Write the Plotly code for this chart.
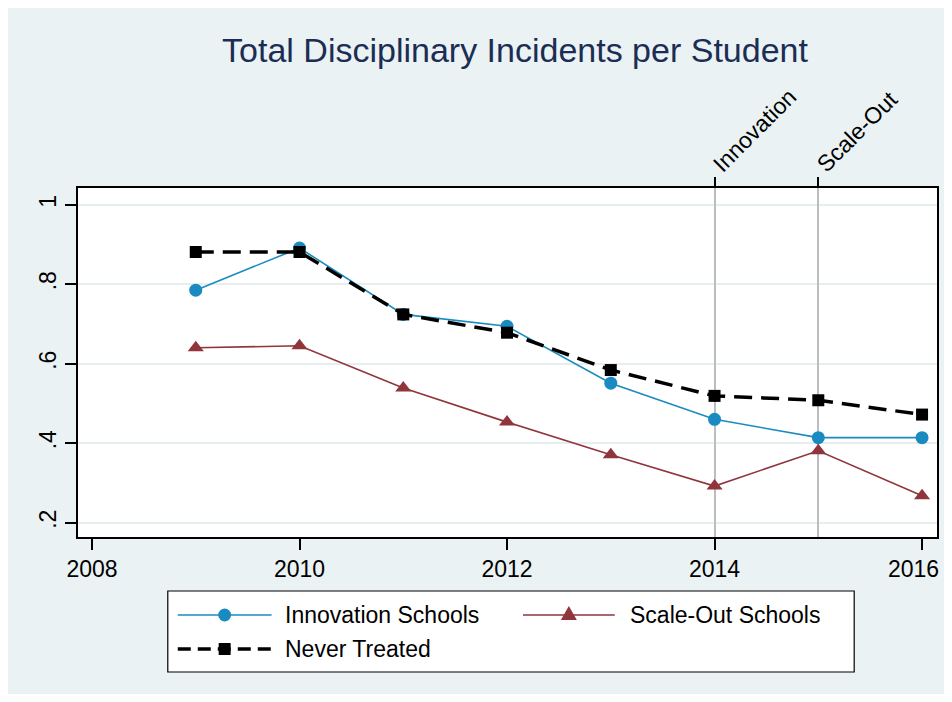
import plotly.graph_objects as go

# ---------------- data ----------------
years = [2009, 2010, 2011, 2012, 2013, 2014, 2015, 2016]
innovation = [0.785, 0.891, 0.724, 0.694, 0.551, 0.460, 0.414, 0.414]
scale_out = [0.640, 0.645, 0.539, 0.453, 0.371, 0.292, 0.381, 0.268]
never_treated = [0.881, 0.881, 0.724, 0.678, 0.584, 0.519, 0.508, 0.472]

series_names = ["Innovation Schools", "Scale-Out Schools", "Never Treated"]
x_ticks = [2008, 2010, 2012, 2014, 2016]
y_ticks = [0.2, 0.4, 0.6, 0.8, 1.0]
y_tick_labels = [".2", ".4", ".6", ".8", "1"]
event_years = [2014, 2015]
event_labels = ["Innovation", "Scale-Out"]
title_text = "Total Disciplinary Incidents per Student"

# ---------------- style ----------------
OFF = 8                              # default page body margin
W, H = 952 - 2 * OFF, 702 - 2 * OFF  # figure size so the page is exactly 952x702
L, T = 78 - OFF, 188 - OFF
R = W - (939 - OFF)
B = H - (537 - OFF)
PW, PH = W - L - R, H - T - B
BG = "#EAF2F3"
BLUE = "#1A8BC0"
RED = "#90353B"
FONT = "Liberation Sans, Arial, sans-serif"


def px(x):
    """page pixel x -> paper coordinate"""
    return (x - OFF - L) / PW


def py(y):
    """page pixel y -> paper coordinate"""
    return (H - B - (y - OFF)) / PH


fig = go.Figure()

fig.add_trace(go.Scatter(x=years, y=innovation, name=series_names[0], mode="lines+markers",
                         line=dict(color=BLUE, width=1.6),
                         marker=dict(symbol="circle", size=13, color=BLUE)))
fig.add_trace(go.Scatter(x=years, y=scale_out, name=series_names[1], mode="lines+markers",
                         line=dict(color=RED, width=1.6),
                         marker=dict(symbol="triangle-up", size=14, color=RED)))
fig.add_trace(go.Scatter(x=years, y=never_treated, name=series_names[2], mode="lines+markers",
                         xaxis="x2",
                         line=dict(color="black", width=3.5, dash="18px,9px"),
                         marker=dict(symbol="square", size=12, color="black")))

xrange = [2007.865, 2016.144]
fig.update_layout(
    width=W, height=H,
    margin=dict(l=L, r=R, t=T, b=B),
    paper_bgcolor=BG, plot_bgcolor="white",
    showlegend=False,
    font=dict(family=FONT, color="black", size=23),
    title=dict(text=title_text, x=(515 - OFF) / W, xanchor="center", y=1 - (50 - OFF) / H,
               yanchor="middle", font=dict(size=34, color="#1C2D55", family=FONT)),
    xaxis=dict(range=xrange, tickvals=x_ticks, ticktext=[str(v) for v in x_ticks[:-1]] + [""],
               ticks="outside", ticklen=11, tickwidth=1.5,
               tickcolor="black", showgrid=False, zeroline=False, showline=True, linecolor="black",
               linewidth=1.6, mirror=True, tickfont=dict(size=23)),
    xaxis2=dict(range=xrange, overlaying="x", side="top", anchor="y", tickvals=event_years,
                ticktext=event_labels, tickangle=-45, ticks="outside", ticklen=10, tickwidth=1.5,
                tickcolor="black", showgrid=True, gridcolor="#BDBDBD", gridwidth=1.5,
                zeroline=False, showline=False, tickfont=dict(size=23)),
    yaxis=dict(range=[0.164, 1.042], tickvals=y_ticks, ticktext=y_tick_labels, tickangle=-90,
               ticks="outside", ticklen=11, tickwidth=1.5, tickcolor="black", showgrid=True,
               gridcolor="#E6EEF0", gridwidth=1.5, zeroline=False, showline=True,
               linecolor="black", linewidth=1.6, mirror=True, tickfont=dict(size=23)),
)
try:
    fig.update_layout(xaxis2_ticklabelstandoff=-9)
except Exception:
    pass

shapes = []
# legend box
shapes.append(dict(type="rect", xref="paper", yref="paper", x0=px(168), x1=px(856), y0=py(591), y1=py(672),
                   fillcolor="white", line=dict(color="black", width=1.2)))
# entry 1
r1 = 615
shapes.append(dict(type="line", xref="paper", yref="paper", x0=px(178), x1=px(272), y0=py(r1), y1=py(r1),
                   line=dict(color=BLUE, width=1.6)))
shapes.append(dict(type="circle", xref="paper", yref="paper", x0=px(225 - 6.5), x1=px(225 + 6.5),
                   y0=py(r1 - 6.5), y1=py(r1 + 6.5), fillcolor=BLUE, line=dict(color=BLUE, width=0)))
# entry 2
shapes.append(dict(type="line", xref="paper", yref="paper", x0=px(524), x1=px(616), y0=py(r1), y1=py(r1),
                   line=dict(color=RED, width=1.6)))
tx, ty = 570, r1
tri = "M {},{} L {},{} L {},{} Z".format(px(tx - 8), py(ty + 5), px(tx + 8), py(ty + 5), px(tx), py(ty - 9))
shapes.append(dict(type="path", xref="paper", yref="paper", path=tri, fillcolor=RED, line=dict(color=RED, width=0)))
# entry 3
r2 = 649
shapes.append(dict(type="line", xref="paper", yref="paper", x0=px(178), x1=px(272), y0=py(r2), y1=py(r2),
                   line=dict(color="black", width=3.5, dash="13px,7px")))
shapes.append(dict(type="rect", xref="paper", yref="paper", x0=px(225 - 6), x1=px(225 + 6),
                   y0=py(r2 - 6), y1=py(r2 + 6), fillcolor="black", line=dict(width=0)))
fig.update_layout(shapes=shapes)

ann = []
for text, x, y in [(series_names[0], 283, r1), (series_names[1], 629, r1), (series_names[2], 283, r2)]:
    ann.append(dict(text=text, xref="paper", yref="paper", x=px(x), y=py(y), xanchor="left",
                    yanchor="middle", showarrow=False, font=dict(size=23, color="black", family=FONT)))
# last x tick label, kept inside the page edge
ann.append(dict(text=str(x_ticks[-1]), xref="x", yref="paper", x=x_ticks[-1], y=py(569),
                xanchor="right", yanchor="middle", xshift=(W - px(924) * PW - L) - 1,
                showarrow=False, font=dict(size=23, color="black", family=FONT)))
fig.update_layout(annotations=ann)

fig.write_html("out.html")
